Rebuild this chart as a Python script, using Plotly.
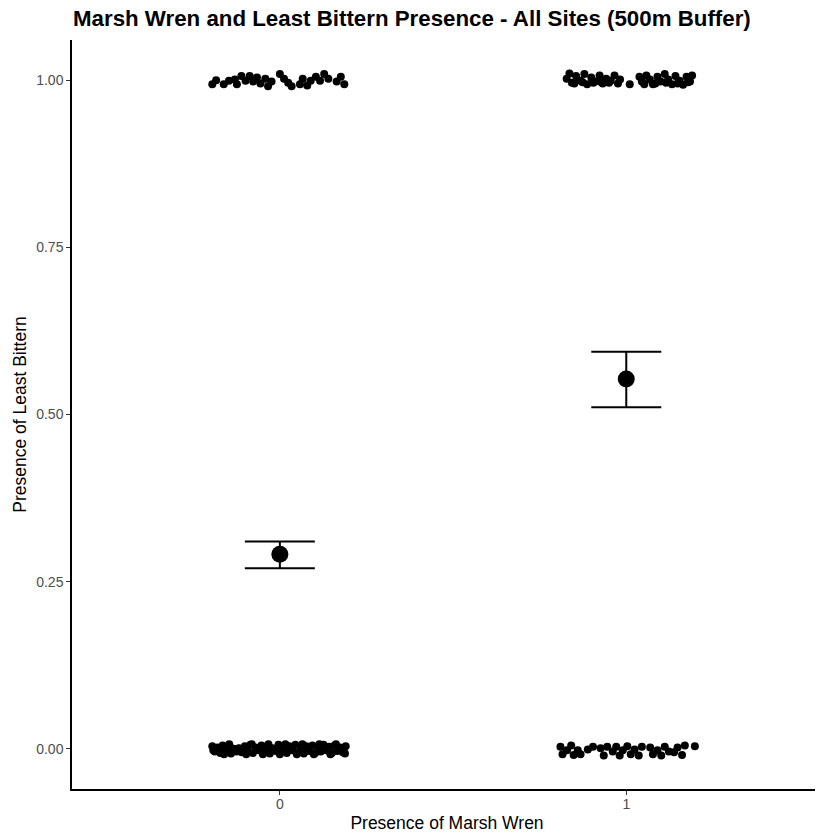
import plotly.graph_objects as go

# ---- data ----
categories = [0, 1]
category_labels = ["0", "1"]

# jittered observations: horizontal offsets from category, and jittered y values
c0_present_dx = [-0.195, -0.184, -0.162, -0.147, -0.130, -0.124, -0.111, -0.099, -0.087, -0.077,
                 -0.066, -0.056, -0.042, -0.034, -0.024, 0.000, 0.012, 0.024, 0.034, 0.058,
                 0.066, 0.079, 0.089, 0.104, 0.116, 0.128, 0.140, 0.164, 0.176, 0.186]
c0_present_y = [0.994, 1.000, 0.994, 0.999, 1.001, 0.994, 1.006, 0.999, 1.006, 0.998,
                1.004, 0.995, 1.002, 0.991, 0.998, 1.009, 1.002, 0.996, 0.991, 0.994,
                1.002, 0.992, 0.999, 1.005, 0.999, 1.009, 1.002, 0.998, 1.005, 0.994]

c0_absent_dx = [-0.195, -0.188, -0.180, -0.172, -0.165, -0.158, -0.150, -0.141, -0.133, -0.125,
                -0.118, -0.110, -0.101, -0.093, -0.085, -0.078, -0.070, -0.061, -0.053, -0.045,
                -0.037, -0.029, -0.021, -0.012, -0.004, 0.004, 0.012, 0.020, 0.028, 0.036,
                0.045, 0.053, 0.061, 0.069, 0.077, 0.085, 0.094, 0.102, 0.110, 0.118,
                0.126, 0.134, 0.142, 0.150, 0.158, 0.166, 0.174, 0.182, 0.190,
                -0.192, -0.176, -0.161, -0.146, -0.121, -0.097, -0.081, -0.066, -0.049, -0.033,
                -0.017, 0.000, 0.016, 0.032, 0.049, 0.065, 0.081, 0.098, 0.114, 0.130,
                0.146, 0.162, 0.178, 0.188]
c0_absent_y = [0.004, -0.004, 0.002, -0.006, 0.005, -0.002, 0.003, -0.007, 0.000, -0.004,
               0.001, -0.005, 0.004, -0.003, 0.006, -0.006, 0.002, -0.002, 0.005, -0.005,
               0.003, -0.007, 0.001, -0.003, 0.006, -0.004, 0.002, -0.006, 0.004, -0.002,
               0.006, -0.005, 0.001, -0.007, 0.004, -0.003, 0.005, -0.006, 0.002, -0.004,
               0.006, -0.002, 0.003, -0.006, 0.005, -0.003, 0.002, -0.005, 0.004,
               -0.002, 0.000, -0.008, 0.007, 0.000, -0.008, 0.007, -0.001, -0.008, 0.007,
               -0.001, -0.008, 0.007, 0.000, -0.008, 0.007, -0.001, -0.008, 0.007, 0.000,
               -0.008, 0.007, -0.001, -0.007]

c1_present_dx = [-0.172, -0.164, -0.157, -0.145, -0.132, -0.121, -0.113, -0.101, -0.090, -0.077,
                 -0.068, -0.058, -0.045, -0.034, -0.024, -0.018, 0.010, 0.038, 0.045, 0.058,
                 0.068, 0.077, 0.090, 0.099, 0.111, 0.121, 0.132, 0.142, 0.154, 0.164,
                 0.174, 0.184, 0.190, -0.150, -0.126, -0.095, -0.072, -0.050, 0.052, 0.084,
                 0.115, 0.148, 0.178]
c1_present_y = [1.002, 1.010, 0.996, 1.006, 0.999, 1.009, 0.994, 1.004, 0.998, 1.007,
                0.995, 1.002, 0.999, 1.007, 0.995, 1.001, 0.994, 1.005, 0.998, 1.007,
                1.001, 0.994, 1.005, 0.998, 1.009, 1.001, 0.994, 1.006, 0.999, 0.993,
                1.005, 0.998, 1.007, 0.995, 0.997, 0.996, 0.997, 0.996, 0.994, 0.995,
                0.996, 0.995, 0.997]

c1_absent_dx = [-0.190, -0.184, -0.171, -0.159, -0.152, -0.140, -0.132, -0.111, -0.096, -0.074,
                -0.065, -0.055, -0.039, -0.029, -0.019, -0.010, 0.003, 0.013, 0.024, 0.036,
                0.045, 0.069, 0.077, 0.090, 0.101, 0.111, 0.123, 0.138, 0.148, 0.161,
                0.169, 0.198]
c1_absent_y = [0.003, -0.008, -0.002, 0.005, -0.009, -0.002, -0.008, -0.001, 0.003, 0.001,
               -0.010, 0.003, -0.004, 0.003, -0.010, -0.002, 0.004, -0.008, -0.001, -0.010,
               0.003, 0.002, -0.008, -0.002, -0.010, 0.003, -0.004, -0.005, 0.002, -0.009,
               0.005, 0.004]

mean_presence = [0.291, 0.553]
upper_ci = [0.310, 0.594]
lower_ci = [0.270, 0.511]

# ---- figure ----
fig = go.Figure()

groups = [
    (categories[0], c0_present_dx, c0_present_y),
    (categories[0], c0_absent_dx, c0_absent_y),
    (categories[1], c1_present_dx, c1_present_y),
    (categories[1], c1_absent_dx, c1_absent_y),
]
for cat, dx, yy in groups:
    fig.add_trace(go.Scatter(
        x=[cat + d for d in dx], y=yy, mode="markers",
        marker=dict(color="black", size=8, line=dict(width=0)),
        showlegend=False, hoverinfo="skip"))

fig.add_trace(go.Scatter(
    x=categories, y=mean_presence, mode="markers",
    marker=dict(color="black", size=17, line=dict(width=0)),
    error_y=dict(type="data", symmetric=False,
                 array=[u - m for u, m in zip(upper_ci, mean_presence)],
                 arrayminus=[m - l for m, l in zip(mean_presence, lower_ci)],
                 color="black", thickness=2, width=35),
    showlegend=False))

# the page body adds an 8px margin, so the figure is sized/positioned to compensate
W, H = 815, 831
fig.update_layout(
    width=W, height=H,
    plot_bgcolor="white", paper_bgcolor="white",
    margin=dict(l=64, r=1, t=32, b=50, autoexpand=False),
    font=dict(family="Liberation Sans, Arial, sans-serif", color="black"),
    title=dict(text="<b>Marsh Wren and Least Bittern Presence - All Sites (500m Buffer)</b>",
               xref="container", yref="container",
               x=65 / W, xanchor="left", y=1 - 10.5 / H, yanchor="middle",
               font=dict(size=22.3, color="black")),
    xaxis=dict(range=[-0.6, 1.565], tickvals=categories, ticktext=category_labels,
               automargin=False,
               showgrid=False, zeroline=False, showline=True, linecolor="black", linewidth=1.5,
               ticks="outside", ticklen=4, tickcolor="#333333", tickwidth=1,
               ticklabelstandoff=-3,
               tickfont=dict(size=14, color="#4d4d4d"),
               title=dict(text="Presence of Marsh Wren", font=dict(size=17.5, color="black"), standoff=6)),
    yaxis=dict(range=[-0.06, 1.06], tickvals=[0, 0.25, 0.5, 0.75, 1.0],
               ticktext=["0.00", "0.25", "0.50", "0.75", "1.00"],
               automargin=False,
               showgrid=False, zeroline=False, showline=True, linecolor="black", linewidth=1.5,
               ticks="outside", ticklen=4, tickcolor="#333333", tickwidth=1,
               tickfont=dict(size=14, color="#4d4d4d"),
               title=dict(text="Presence of Least Bittern", font=dict(size=17.5, color="black"), standoff=5)),
)

fig.write_html("out.html")
